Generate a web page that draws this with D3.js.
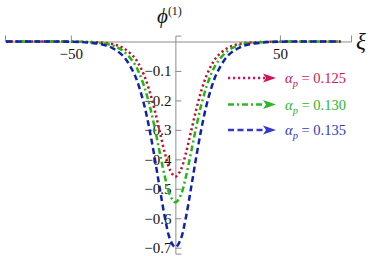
<!DOCTYPE html>
<html>
<head>
<meta charset="utf-8">
<script src="https://cdn.jsdelivr.net/npm/d3@7"></script>
<style>
  body { margin: 0; background: #fff; }
  svg text { font-family: "Liberation Serif", "Times New Roman", serif; }
</style>
</head>
<body>
<svg id="svg" width="371" height="256"></svg>
<script>
// soliton profiles phi(1) vs xi
var xi = [-81, -60, -45, -40, -35, -30, -25, -20, -17.5, -15, -12.5, -10, -7.5, -5, -2.5, 0,
          2.5, 5, 7.5, 10, 12.5, 15, 17.5, 20, 25, 30, 35, 40, 45, 60, 79];

var phiA = [0, 0, -0.001, -0.002, -0.004, -0.009, -0.022, -0.051, -0.077, -0.114, -0.165, -0.230, -0.305, -0.380, -0.437, -0.459,
            -0.437, -0.380, -0.305, -0.230, -0.165, -0.114, -0.077, -0.051, -0.022, -0.009, -0.004, -0.002, -0.001, 0, 0];
var phiB = [0, 0, -0.001, -0.003, -0.006, -0.014, -0.032, -0.071, -0.104, -0.151, -0.212, -0.289, -0.376, -0.460, -0.523, -0.546,
            -0.523, -0.460, -0.376, -0.289, -0.212, -0.151, -0.104, -0.071, -0.032, -0.014, -0.006, -0.003, -0.001, 0, 0];
var phiC = [0, 0, -0.002, -0.005, -0.010, -0.023, -0.049, -0.105, -0.151, -0.213, -0.294, -0.391, -0.497, -0.598, -0.672, -0.699,
            -0.672, -0.598, -0.497, -0.391, -0.294, -0.213, -0.151, -0.105, -0.049, -0.023, -0.010, -0.005, -0.002, 0, 0];

var alphaLabels = ["0.125", "0.130", "0.135"];
var xTicks = [-50, 50];
var yTicks = [-0.7, -0.6, -0.5, -0.4, -0.3, -0.2, -0.1];

var series = [
  {vals: phiA, line: "#c0122e", text: "#d0145a", dash: "2.2,2.8"},
  {vals: phiB, line: "#22b811", text: "#2eb52a", dash: "6,3,2,3"},
  {vals: phiC, line: "#1222a8", text: "#3438c8", dash: "6,3.5"}
];

var serif = "'Liberation Serif', 'Times New Roman', serif";
var svg = d3.select("#svg");

var x = d3.scaleLinear().domain([-81.5, 84]).range([5, 351]);
var y = d3.scaleLinear().domain([-0.72, 0.02]).range([253.6, 35.6]);

var axisColor = "#8c8c8c";

// x axis (ticks pointing up, mathematica style)
var gx = svg.append("g").attr("transform", "translate(0," + y(0) + ")");
var minorX = d3.range(-80, 81, 10).filter(function(d) { return d != 0 && Math.abs(d) != 50; });
gx.call(d3.axisBottom(x).tickValues(minorX).tickSize(-3).tickFormat(""));
gx.call(d3.axisBottom(x).tickValues(xTicks).tickSize(-6).tickPadding(7).tickFormat(d3.format("d")));

// y axis (ticks pointing right)
var gy = svg.append("g").attr("transform", "translate(" + x(0) + ",0)");
var minorY = d3.range(-36, 1).map(function(d) { return d * 0.02; })
  .filter(function(d) { return Math.abs(Math.round(d * 10) - d * 10) > 1e-6; });
gy.call(d3.axisLeft(y).tickValues(minorY).tickSize(-3).tickFormat(""));
gy.call(d3.axisLeft(y).tickValues(yTicks).tickSize(-6).tickPadding(4).tickFormat(d3.format(".1f")));

svg.selectAll("g").attr("font-family", serif);
svg.selectAll(".domain").attr("stroke", axisColor);
svg.selectAll(".tick line").attr("stroke", axisColor);
svg.selectAll(".tick text").attr("fill", "#111").attr("font-size", 15);

// curves
var line = d3.line()
  .x(function(d) { return x(d[0]); })
  .y(function(d) { return y(d[1]); })
  .curve(d3.curveCatmullRom);

series.forEach(function(s) {
  svg.append("path")
    .datum(xi.map(function(v, i) { return [v, s.vals[i]]; }))
    .attr("fill", "none")
    .attr("stroke", s.line)
    .attr("stroke-width", 2.5)
    .attr("stroke-dasharray", s.dash)
    .attr("d", line);
});

// legend
var legY = [78, 104.5, 130];
series.forEach(function(s, i) {
  var g = svg.append("g").attr("transform", "translate(0," + legY[i] + ")");
  g.append("line")
    .attr("x1", 228).attr("x2", 265).attr("y1", 0).attr("y2", 0)
    .attr("stroke", s.text).attr("stroke-width", 2.5)
    .attr("stroke-dasharray", s.dash);
  g.append("path")
    .attr("d", "M263,-4.5 L276,0 L263,4.5 L266,0 Z")
    .attr("fill", s.text);
  var t = g.append("text")
    .attr("x", 285).attr("y", 5)
    .attr("fill", s.text)
    .attr("font-family", serif)
    .attr("font-size", 14.5);
  t.append("tspan").attr("font-style", "italic").text("α");
  t.append("tspan").attr("font-style", "italic").attr("font-size", 10.5)
    .attr("dy", 4).text("p");
  t.append("tspan").attr("dy", -4).text(" = " + alphaLabels[i]);
});

// axis titles
var ty = svg.append("text").attr("x", 157).attr("y", 23).attr("fill", "#111")
  .attr("font-family", serif);
ty.append("tspan").attr("font-style", "italic").attr("font-size", 21).text("ϕ");
ty.append("tspan").attr("font-size", 12).attr("dy", -8).text("(1)");

svg.append("text").attr("x", 356).attr("y", 49)
  .attr("fill", "#111")
  .attr("font-family", serif)
  .attr("font-style", "italic").attr("font-size", 23)
  .text("ξ");
</script>
</body>
</html>
